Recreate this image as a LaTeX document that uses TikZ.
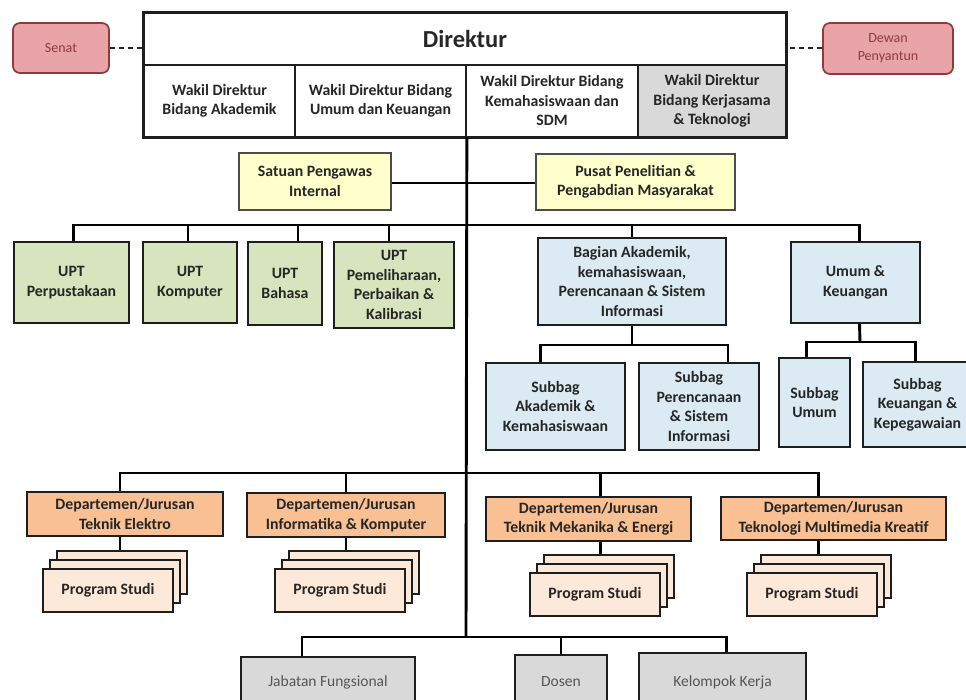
\documentclass[tikz,border=0pt]{standalone}
\usepackage{fontspec}
\setmainfont{Carlito}
\definecolor{pinkf}{HTML}{E8A4A8}
\definecolor{pinkd}{HTML}{8E3B3E}
\definecolor{greenf}{HTML}{D7E4BD}
\definecolor{yellowf}{HTML}{FFFFCC}
\definecolor{bluef}{HTML}{DBEAF3}
\definecolor{orangef}{HTML}{F9C093}
\definecolor{peachf}{HTML}{FDE9D9}
\definecolor{greyf}{HTML}{D9D9D9}
\definecolor{lineC}{HTML}{1E1E1E}
\definecolor{greyt}{HTML}{555555}
\newcommand{\bx}[7]{\node[#1,minimum width={(#4)-(#2)},minimum height={(#5)-(#3)}] (#6) at ({((#2)+(#4))/2},{((#3)+(#5))/2}) {#7};}
\newcommand{\pstack}[3]{%
  \bx{pbox}{#2+14}{#3-18}{#2+144}{#3+25}{#1a}{}%
  \bx{pbox}{#2+7}{#3-9}{#2+137}{#3+34}{#1b}{}%
  \bx{pbox}{#2}{#3}{#2+130}{#3+43}{#1c}{Program Studi}}
\tikzset{
  base/.style={draw=lineC, line width=1.7pt, inner sep=1pt, align=center,
    font=\fontsize{15.8}{19.5}\selectfont\bfseries, text=black!85},
  dirbox/.style={base, fill=white, font=\fontsize{24.5}{27}\selectfont\bfseries},
  wbox/.style={base, fill=white},
  senbox/.style={base, draw=pinkd, fill=pinkf, rounded corners=7pt, text=pinkd,
    font=\fontsize{14}{18}\selectfont},
  ybox/.style={base, draw=black!70, fill=yellowf},
  gbox/.style={base, fill=greenf},
  bbox/.style={base, fill=bluef},
  obox/.style={base, fill=orangef},
  pbox/.style={base, fill=peachf},
  gyb/.style={base, fill=greyf, text=greyt, font=\fontsize{15.5}{19}\selectfont},
  conn/.style={line width=2.9pt, draw=black},
  dsh/.style={line width=2pt, draw=black!85, dash pattern=on 5pt off 4pt}
}
\begin{document}
\begin{tikzpicture}[x=1pt,y=-1pt]
\useasboundingbox[fill=white] (0,0) rectangle (966,700);
% top block
\bx{dirbox}{144}{13}{786}{65}{dir}{Direktur}
\bx{wbox}{144}{65}{295}{137}{w1}{Wakil Direktur\\Bidang Akademik}
\bx{wbox}{295}{65}{466}{137}{w2}{Wakil Direktur Bidang\\Umum dan Keuangan}
\bx{wbox}{466}{65}{638}{137}{w3}{Wakil Direktur Bidang\\Kemahasiswaan dan\\SDM}
\bx{wbox,fill=greyf}{638}{65}{786}{137}{w4}{Wakil Direktur\\Bidang Kerjasama\\\& Teknologi}
\draw[line width=2.6pt, draw=lineC] (dir.north west) rectangle (w4.south east);
\bx{senbox}{13}{23}{109}{73}{senat}{Senat}
\bx{senbox}{823}{23}{953}{74}{dewan}{Dewan\\Penyantun}
% level 2
\bx{ybox}{239}{153}{391}{210}{spi}{Satuan Pengawas\\Internal}
\bx{ybox}{536}{154}{735}{210}{ppm}{Pusat Penelitian \&\\Pengabdian Masyarakat}
% UPT
\bx{gbox}{14}{242}{129}{323}{u1}{UPT\\Perpustakaan}
\bx{gbox}{143}{242}{237}{323}{u2}{UPT\\Komputer}
\bx{gbox}{248}{242}{322}{325}{u3}{UPT\\Bahasa}
\bx{gbox}{334}{242}{454}{328}{u4}{UPT\\Pemeliharaan,\\Perbaikan \&\\Kalibrasi}
% Bagian
\bx{bbox}{538}{238}{726}{325}{bag}{Bagian Akademik,\\kemahasiswaan,\\Perencanaan \& Sistem\\Informasi}
\bx{bbox}{791}{242}{920}{323}{umum}{Umum \&\\Keuangan}
\bx{bbox}{486}{363}{625}{450}{sa}{Subbag\\Akademik \&\\Kemahasiswaan}
\bx{bbox}{639}{363}{759}{450}{sp}{Subbag\\Perencanaan\\\& Sistem\\Informasi}
\bx{bbox}{779}{358}{850}{447}{su}{Subbag\\Umum}
\bx{bbox}{863}{362}{972}{447}{sk}{Subbag\\Keuangan \&\\Kepegawaian}
% Departments
\bx{obox}{27}{492}{223}{536}{d1}{Departemen/Jurusan\\Teknik Elektro}
\bx{obox}{247}{493}{445}{537}{d2}{Departemen/Jurusan\\Informatika \& Komputer}
\bx{obox}{486}{497}{691}{541}{d3}{Departemen/Jurusan\\Teknik Mekanika \& Energi}
\bx{obox}{721}{497}{946}{540}{d4}{Departemen/Jurusan\\Teknologi Multimedia Kreatif}
\pstack{psA}{43}{569}
\pstack{psB}{275}{569}
\pstack{psC}{530}{573}
\pstack{psD}{747}{573}
% bottom
\bx{gyb}{241}{657}{415}{707}{jf}{Jabatan Fungsional}
\bx{gyb}{515}{655}{607}{709}{ds}{Dosen}
\bx{gyb}{639}{653}{806}{711}{kk}{Kelompok Kerja}
% trunk coordinates
\coordinate (tA) at (466,183);
\coordinate (tB) at (466,225);
\coordinate (tC) at (466,473);
\coordinate (tD) at (466,637);
% dashed links
\draw[dsh] (senat.east) -- (senat.east -| dir.west);
\draw[dsh] (dewan.west) -- (dewan.west -| dir.east);
% connectors
\draw[conn] (w2.south east) -- (tD);
\draw[conn] (spi.east |- tA) -- (tA) -- (ppm.west |- tA);
\draw[conn] ([xshift=2pt]u1.north) |- (tB) -| ([xshift=4pt]umum.north);
\foreach \n/\s in {u2/-2pt,u3/13pt,u4/-5pt,bag/0pt}
  \draw[conn] ([xshift=\s]\n.north) -- ([xshift=\s]\n.north |- tB);
\coordinate (bb) at (632,345);
\draw[conn] (bag.south) -- (bag.south |- bb);
\draw[conn] ([xshift=-15pt]sa.north) |- (bb) -| ([xshift=29pt]sp.north);
\coordinate (ub) at (860,342);
\draw[conn] ([xshift=4pt]umum.south) -- (ub);
\draw[conn] ([xshift=-8pt]su.north) |- (ub) -| ([xshift=-2pt]sk.north);
% departments
\draw[conn] ([xshift=-5pt]d1.north) |- (tC) -| ([xshift=-15pt]d4.north);
\draw[conn] (d2.north) -- (d2.north |- tC);
\draw[conn] ([xshift=12pt]d3.north) -- ([xshift=12pt]d3.north |- tC);
\draw[conn] ([xshift=-5pt]d1.south) -- ([xshift=-5pt]d1.south |- psAa.north);
\draw[conn] (d2.south) -- (d2.south |- psBa.north);
\draw[conn] ([xshift=12pt]d3.south) -- ([xshift=12pt]d3.south |- psCa.north);
\draw[conn] ([xshift=-15pt]d4.south) -- ([xshift=-15pt]d4.south |- psDa.north);
% bottom bus
\draw[conn] ([xshift=-26pt]jf.north) |- (tD) -| ([xshift=4pt]kk.north);
\draw[conn] (ds.north) -- (ds.north |- tD);
\end{tikzpicture}
\end{document}
